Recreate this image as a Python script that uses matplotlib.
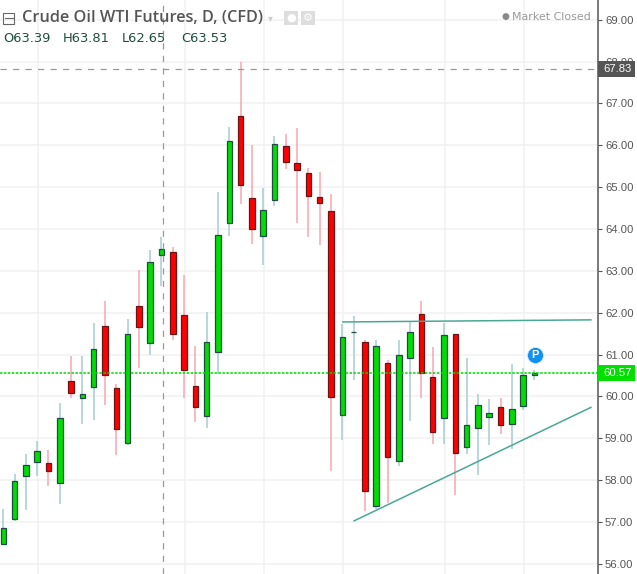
import matplotlib

matplotlib.use("Agg")
import matplotlib.pyplot as plt
from matplotlib.patches import Rectangle
import numpy as np

W, H = 637, 574

# daily candles
opens = [56.48, 57.07, 58.11, 58.44, 58.40, 57.94, 60.36, 59.97, 60.23, 61.69,
         60.21, 58.88, 62.17, 61.28, 63.39, 63.45, 61.95, 60.24, 59.54, 61.06,
         64.15, 66.69, 64.74, 63.84, 64.70, 65.98, 65.57, 65.33, 64.76, 64.43,
         59.56, 61.55, 61.29, 57.39, 60.81, 58.46, 60.93, 61.96, 60.46, 59.49,
         61.50, 58.80, 59.25, 59.52, 59.76, 59.35, 59.78, 60.52]
closes = [56.86, 57.98, 58.36, 58.69, 58.23, 59.48, 60.09, 60.05, 61.14, 60.52,
          59.23, 61.50, 61.66, 63.21, 63.53, 61.49, 60.63, 59.75, 61.29, 63.85,
          66.10, 65.06, 64.01, 64.45, 66.03, 65.61, 65.40, 64.80, 64.61, 59.99,
          61.43, 61.55, 57.75, 61.20, 58.56, 60.98, 61.55, 60.55, 59.16, 61.46,
          58.66, 59.33, 59.79, 59.60, 59.33, 59.71, 60.52, 60.57]
highs = [57.31, 58.15, 58.63, 58.94, 58.72, 59.84, 60.96, 60.96, 61.75, 62.27,
         60.29, 61.84, 63.01, 63.51, 63.81, 63.58, 62.90, 61.21, 62.01, 64.89,
         66.44, 67.99, 66.01, 64.98, 66.22, 66.27, 66.42, 65.46, 65.36, 64.84,
         61.73, 61.92, 61.36, 61.34, 60.87, 61.36, 61.78, 62.28, 61.18, 61.76,
         61.50, 60.91, 60.06, 59.94, 59.96, 60.77, 60.67, 60.63]
lows = [56.48, 57.03, 57.29, 58.10, 57.86, 57.44, 59.97, 59.34, 59.44, 59.79,
        58.60, 58.84, 60.67, 60.98, 62.65, 61.34, 59.96, 59.39, 59.25, 60.53,
        63.84, 64.60, 63.64, 63.14, 64.55, 65.44, 64.15, 63.81, 63.62, 58.22,
        58.96, 60.40, 57.27, 57.31, 57.45, 58.35, 59.42, 59.96, 58.86, 58.86,
        57.65, 58.63, 58.13, 58.84, 59.10, 58.75, 59.67, 60.39]

price_ticks = [56, 57, 58, 59, 60, 61, 62, 63, 64, 65, 66, 67, 68, 69]
date_grid = [3.1, 16.1, 23.1, 30.1, 39.1, 46.1]
last_price = 60.57
cross_price = 67.83
cross_idx = 14.1
resistance_x, resistance_y = [30.05, 52.0], [61.78, 61.83]
support_x, support_y = [31.05, 52.0], [57.03, 59.74]

GREEN, RED = "#00dd00", "#ff0000"
TEAL = "#4aa796"

plt.rcParams["font.family"] = ["Liberation Sans", "DejaVu Sans"]

fig = plt.figure(figsize=(W / 100, H / 100), dpi=100)
ax = fig.add_axes([0, 0, 597.7 / W, 1])
ax.set_xlim(-0.29, 52.6)
ax.set_ylim(55.76, 69.47)


def px(x, y):
    # figure fraction from screen pixels
    return x / W, 1 - y / H


o, c, hi, lo = map(np.array, (opens, closes, highs, lows))
x = np.arange(len(o))
up = c >= o
ax.vlines(x[up], lo[up], hi[up], color="#a5cdd2", lw=1.1, zorder=2)
ax.vlines(x[~up], lo[~up], hi[~up], color="#f6a5b2", lw=1.1, zorder=2)
ax.bar(x[up], (c - o)[up], bottom=o[up], width=0.49, color=GREEN,
       edgecolor="#1d4d40", lw=0.9, zorder=3)
ax.bar(x[~up], (c - o)[~up], bottom=o[~up], width=0.49, color=RED,
       edgecolor="#6a1414", lw=0.9, zorder=3)

ax.plot(resistance_x, resistance_y, color=TEAL, lw=1.1, zorder=4)
ax.plot(support_x, support_y, color=TEAL, lw=1.1, zorder=4)

ax.axhline(last_price, color="#00d800", lw=1.1, ls=(0, (1.6, 1)), zorder=5)
ax.axhline(cross_price, color="#999999", lw=0.9, ls=(0, (5, 5)), zorder=5)
ax.axvline(cross_idx, color="#999999", lw=0.9, ls=(0, (5, 5)), zorder=5)

ax.set_yticks(price_ticks, [f"{p:.2f}" for p in price_ticks])
ax.set_xticks(date_grid, [])
ax.yaxis.tick_right()
ax.tick_params(axis="y", length=3, width=0.8, color="#555555", labelcolor="#555555",
               labelsize=8.1, pad=2.2)
ax.tick_params(axis="x", length=0)
ax.grid(color="#f1f1f1", lw=1.1, zorder=0)
ax.set_axisbelow(True)
for side in ("top", "left", "bottom"):
    ax.spines[side].set_visible(False)
ax.spines["right"].set_color("#555555")
ax.spines["right"].set_linewidth(1.1)

# price tags on the scale
for y0, y1, col, label in [(61, 76.5, "#555555", "67.83"), (365, 380.7, "#00e000", "60.57")]:
    x0, yb = px(597.7, y1)
    fig.add_artist(Rectangle((x0, yb), 37.5 / W, (y1 - y0) / H, transform=fig.transFigure,
                             color=col, lw=0, zorder=6))
    tx, ty = px(603.5, (y0 + y1) / 2)
    fig.text(tx, ty, label, color="white", fontsize=8.1, va="center", ha="left", zorder=7)

# header
fig.add_artist(Rectangle(px(2.5, 23.5), 12 / W, 11 / H, transform=fig.transFigure,
                         fill=False, ec="#666666", lw=0.8))
fig.add_artist(plt.Line2D([px(4.5, 0)[0], px(12.5, 0)[0]], [px(0, 18)[1]] * 2,
                          color="#666666", lw=0.8))
tx, ty = px(22, 18)
fig.text(tx, ty, "Crude Oil WTI Futures, D, (CFD)", family="Open Sans", weight="semibold",
         fontsize=11.7, color="#555555", va="center")
for tx_px, label in [(3, "O63.39"), (63, "H63.81"), (122, "L62.65"), (181, "C63.53")]:
    tx, ty = px(tx_px, 39)
    fig.text(tx, ty, label, family="DejaVu Sans", fontsize=9.4, color="#1f4f3f", va="center")
tx, ty = px(270, 18)
fig.text(tx, ty, "\u25be", family="DejaVu Sans", fontsize=7, color="#cccccc", va="center", ha="center")
for bx in (284, 301):
    fig.add_artist(Rectangle(px(bx, 25), 14 / W, 14 / H, transform=fig.transFigure,
                             color="#dddddd", lw=0))
    cx, cy = px(bx + 7, 18)
    fig.text(cx, cy, "\u25cf" if bx == 284 else "\u2699", family="DejaVu Sans", fontsize=8,
             color="white", ha="center", va="center")

tx, ty = px(505, 17)
fig.text(tx, ty, "\u25cf", family="DejaVu Sans", fontsize=6.5, color="#888888", ha="center", va="center")
tx, ty = px(512, 17)
fig.text(tx, ty, "Market Closed", family="DejaVu Sans", fontsize=7.9, color="#999999", va="center")

# pivot marker
ax.plot([47.08], [60.99], marker="o", ms=11.5, mfc="#0f91f2", mec="#cfe6fb", mew=0.6, zorder=7)
ax.text(47.08, 60.985, "P", color="white", weight="bold", fontsize=8, ha="center",
        va="center", zorder=8)

fig.savefig("out.png", dpi=100)
